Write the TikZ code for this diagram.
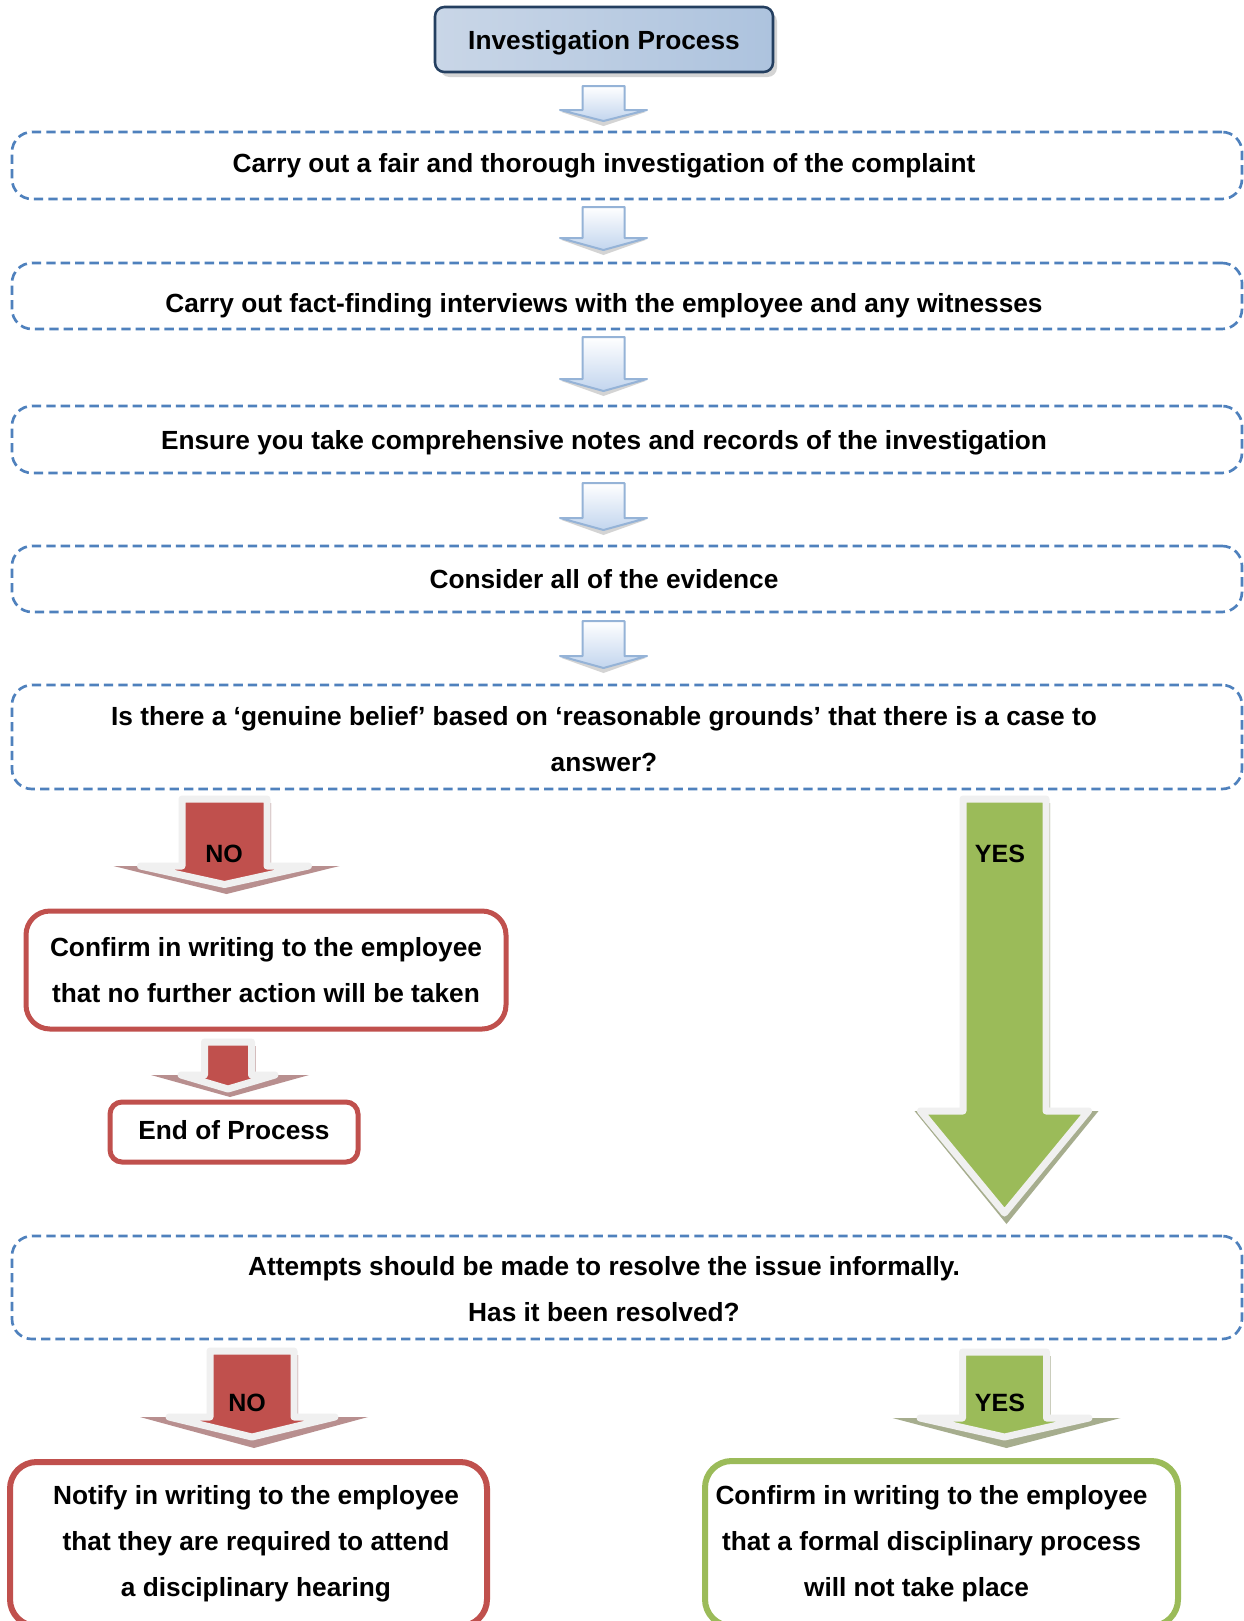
\documentclass[tikz,border=0pt]{standalone}
\usepackage{fontspec}
\setmainfont{Liberation Sans}
\definecolor{dblue}{HTML}{4F81BD}
\definecolor{aredc}{HTML}{C0504D}
\definecolor{agreen}{HTML}{9BBB59}
\definecolor{navy}{HTML}{243F60}
\definecolor{lblue}{HTML}{95B3D7}
\definecolor{afill}{HTML}{C2D5EE}
\definecolor{outl}{HTML}{F0F0F0}
\definecolor{redshadow}{HTML}{B88F8F}
\definecolor{greenshadow}{HTML}{A6AD8E}
\definecolor{softgray}{HTML}{D4D4D4}
\definecolor{titleleft}{HTML}{C9D6E7}
\definecolor{titlemid}{HTML}{E5EBF3}
\definecolor{titleright}{HTML}{ADC3DE}
\newcommand{\colarrow}[9]{%
  \fill[#9shd] ({#1-#3+4},{#2+4}) -- ({#1+#3+4},{#2+4}) -- ({#1+#3+4},{#4}) -- ({#1+2+#7},{#4}) -- ({#1+2},{#8}) -- ({#1+2-#7},{#4}) -- ({#1-#3+4},{#4}) -- cycle;
  \filldraw[#9arr] ({#1-#3},{#2}) -- ({#1+#3},{#2}) -- ({#1+#3},{#4}) -- ({#1+#5},{#4}) -- ({#1},{#6}) -- ({#1-#5},{#4}) -- ({#1-#3},{#4}) -- cycle;
}
\newcommand{\bluearrow}[4]{%
  \fill[softgray] ({#1-42},{#3+2}) -- ({#1},{#4+5}) -- ({#1+42},{#3+2}) -- cycle;
  \filldraw[bluearr] ({#1-21},{#2}) -- ({#1+21},{#2}) -- ({#1+21},{#3}) -- ({#1+43.5},{#3}) -- ({#1},{#4}) -- ({#1-43.5},{#3}) -- ({#1-21},{#3}) -- cycle;
}
\begin{document}
\begin{tikzpicture}[x=0.75pt,y=-0.75pt,
  dbox/.style={draw=dblue, line width=2pt, dash pattern=on 7pt off 3.8pt, rounded corners=15pt, minimum width=922.5pt, inner sep=0pt},
  txt/.style={font=\fontsize{19.7}{34.5}\selectfont\bfseries, align=center, inner sep=0pt},
  lbl/.style={font=\fontsize{18.75}{22}\selectfont\bfseries, inner sep=0pt},
  titlebox/.style={draw=navy, line width=1.9pt, rounded corners=7pt, left color=titleleft, middle color=titlemid, right color=titleright, minimum width=253.5pt, minimum height=48.75pt, inner sep=0pt},
  redbox/.style={draw=aredc, fill=white, rounded corners=18pt, line width=3.75pt, inner sep=0pt},
  greenbox/.style={draw=agreen, fill=white, rounded corners=20pt, line width=4.5pt, inner sep=0pt},
  redshd/.style={fill=redshadow},
  redarr/.style={fill=aredc, draw=outl, line width=5.25pt, line join=round},
  greenshd/.style={fill=greenshadow},
  greenarr/.style={fill=agreen, draw=outl, line width=5.25pt, line join=round},
  bluearr/.style={top color=white, bottom color=afill, draw=lblue, line width=1.5pt, line join=round}]
\clip (0,0) rectangle (1244,1621);
\fill[white] (0,0) rectangle (1244,1621);

% title
\fill[softgray, rounded corners=7pt] (440,12) rectangle (777,77);
\node[titlebox] (title) at (604,39.5) {};
\node[txt] (titlet) at (604,42.5) {Investigation Process};

% blue arrows
\bluearrow{603.5}{86}{110}{121}
\bluearrow{603.5}{207}{238}{250}
\bluearrow{603.5}{337}{379}{391}
\bluearrow{603.5}{483}{518}{530}
\bluearrow{603.5}{621}{656}{668}

% dashed boxes
\node[dbox, minimum height=50.25pt] (b1) at (627,165.5) {};
\node[txt] (t1) at (604,166) {Carry out a fair and thorough investigation of the complaint};
\node[dbox, minimum height=49.5pt] (b2) at (627,296) {};
\node[txt] (t2) at (604,306) {Carry out fact-finding interviews with the employee and any witnesses};
\node[dbox, minimum height=50.25pt] (b3) at (627,439.5) {};
\node[txt] (t3) at (604,443) {Ensure you take comprehensive notes and records of the investigation};
\node[dbox, minimum height=49.5pt] (b4) at (627,579) {};
\node[txt] (t4) at (604,579) {Consider all of the evidence};
\node[dbox, minimum height=78pt] (b5) at (627,737) {};
\node[txt] (t5) at (604,739.5) {Is there a ‘genuine belief’ based on ‘reasonable grounds’ that there is a case to\\answer?};

% NO / YES arrows
\colarrow{224.5}{799}{42.5}{866}{84}{884.5}{113}{894}{red}
\node[lbl] (no1) at (224,854) {NO};
\colarrow{1004.5}{799}{41.5}{1111}{84}{1213}{92}{1224}{green}
\node[lbl] (yes1) at (1000,854) {YES};

% confirm no action
\node[redbox, minimum width=360pt, minimum height=88.5pt, txt] (c1) at (266,970) {Confirm in writing to the employee\\that no further action will be taken};
\colarrow{228}{1042}{23.5}{1075}{47}{1089}{79}{1097}{red}
\node[redbox, rounded corners=9pt, minimum width=186pt, minimum height=45pt, txt] (endp) at (234,1132) {};
\node[txt] (endt) at (234,1130) {End of Process};

% informal box
\node[dbox, minimum height=77.25pt] (b6) at (627,1287.5) {};
\node[txt] (t6) at (604,1289.5) {Attempts should be made to resolve the issue informally.\\Has it been resolved?};

% bottom arrows
\colarrow{252}{1351}{42}{1417}{83}{1437}{114}{1448}{red}
\node[lbl] (no2) at (247,1403) {NO};
\colarrow{1004.5}{1352}{42}{1418}{84.5}{1437}{114}{1448}{green}
\node[lbl] (yes2) at (1000,1403) {YES};

% bottom boxes
\node[redbox, line width=4.5pt, rounded corners=20pt, minimum width=357.75pt, minimum height=123pt] (n2) at (248.5,1544) {};
\node[txt] (n2t) at (256,1543.5) {Notify in writing to the employee\\that they are required to attend\\a disciplinary hearing};
\node[greenbox, minimum width=354.75pt, minimum height=123.75pt] (g2) at (941.5,1543.5) {};
\node[txt] (g2t) at (931.5,1543.5) {Confirm in writing to the employee\\that a formal disciplinary process\\\mbox{will not take place\hspace{22.5pt}}};
\end{tikzpicture}
\end{document}
